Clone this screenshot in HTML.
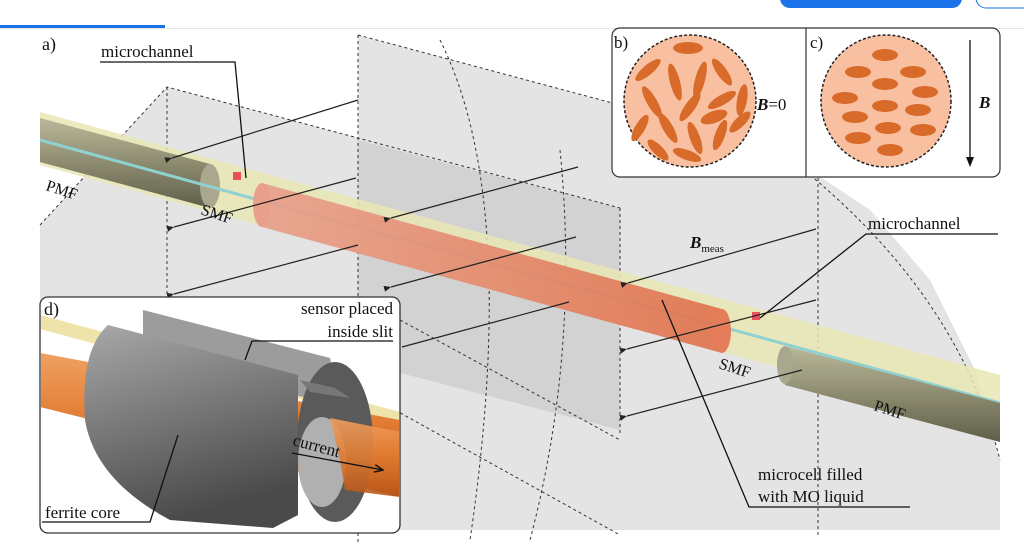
<!DOCTYPE html>
<html><head><meta charset="utf-8"><style>
html,body{margin:0;padding:0;background:#fff;width:1024px;height:550px;overflow:hidden}
svg{display:block}
text{font-family:"Liberation Serif",serif;fill:#111}
</style></head><body>
<svg width="1024" height="550" viewBox="0 0 1024 550" xmlns="http://www.w3.org/2000/svg">
<defs>
<marker id="ar" markerWidth="8" markerHeight="8" refX="1" refY="4" orient="auto" markerUnits="userSpaceOnUse">
<path d="M8,1 L1,4 L8,7 Z" fill="#222"/></marker>
<marker id="ae" markerWidth="10" markerHeight="8" refX="9" refY="4" orient="auto" markerUnits="userSpaceOnUse">
<path d="M0,0 L9,4 L0,8" fill="none" stroke="#111" stroke-width="1.5"/></marker>
<linearGradient id="pmf" x1="0" y1="0" x2="0" y2="1"><stop offset="0" stop-color="#b9b89a"/><stop offset="0.5" stop-color="#8d8c70"/><stop offset="1" stop-color="#5f5e4a"/></linearGradient>
<linearGradient id="org" x1="0" y1="0" x2="1" y2="0"><stop offset="0" stop-color="#e8a08c"/><stop offset="1" stop-color="#e0734f"/></linearGradient>
<linearGradient id="fer" x1="0" y1="0" x2="0.3" y2="1"><stop offset="0" stop-color="#a8a8a8"/><stop offset="1" stop-color="#4a4a4a"/></linearGradient>
<linearGradient id="rod" x1="0" y1="0" x2="0" y2="1"><stop offset="0" stop-color="#f0a060"/><stop offset="0.5" stop-color="#e07a30"/><stop offset="1" stop-color="#b85518"/></linearGradient>
</defs>

<rect x="0" y="25" width="165" height="3" fill="#1a73e8"/>
<rect x="0" y="28" width="1024" height="1" fill="#e6e6e6"/>
<rect x="780" y="-12" width="182" height="20" rx="10" fill="#1a73e8"/>
<rect x="976" y="-12" width="60" height="20" rx="10" fill="#fff" stroke="#1a73e8" stroke-width="1"/>

<polygon points="40,225 167,87 358,138 358,35 620,105 810,170 870,210 930,280 975,370 1000,460 1000,530 40,530" fill="#e4e4e4"/>
<polygon points="358,140 620,208 620,430 358,362" fill="#d2d2d2"/>
<g fill="none" stroke="#333" stroke-width="1" stroke-dasharray="3,3">
<path d="M40,225 L167,87 L620,208"/>
<path d="M358,35 L620,105"/>
<path d="M167,87 V300"/>
<path d="M358,35 V545"/>
<path d="M620,208 V435"/>
<path d="M818,178 V535"/>
<path d="M400,320 L620,440"/>
<path d="M395,410 L620,535"/>
<path d="M810,175 Q960,300 1000,460"/>
<path d="M440,40 Q520,200 470,540"/>
<path d="M560,150 Q580,350 530,540"/>
</g>

<polygon points="40,112 1000,375 1000,428 40,165" fill="#e9e7b5" opacity="0.85"/>
<polygon points="40,118 210,164 210,208 40,162" fill="url(#pmf)"/>
<ellipse cx="210" cy="186" rx="10" ry="22" fill="#a9a88e"/>
<line x1="40" y1="140" x2="1000" y2="403" stroke="#8fd0d0" stroke-width="3"/>
<polygon points="262,183 722,309 722,353 262,227" fill="url(#org)" opacity="0.92"/>
<ellipse cx="262" cy="205" rx="9" ry="22" fill="#e9a08a"/>
<ellipse cx="722" cy="331" rx="9" ry="22" fill="#e57c5a"/>
<rect x="233" y="172" width="8" height="8" fill="#e85060"/>
<rect x="752" y="312" width="8" height="8" fill="#e85060"/>
<polygon points="785,346 1000,403 1000,442 785,385" fill="url(#pmf)"/>
<ellipse cx="785" cy="365" rx="8" ry="19" fill="#a9a88e"/>

<g stroke="#222" stroke-width="1.2" fill="none" marker-end="url(#ar)">
<line x1="358" y1="100" x2="172" y2="158"/>
<line x1="356" y1="178" x2="174" y2="227"/>
<line x1="578" y1="167" x2="391" y2="218"/>
<line x1="358" y1="245" x2="174" y2="294"/>
<line x1="576" y1="237" x2="391" y2="287"/>
<line x1="816" y1="229" x2="628" y2="283"/>
<line x1="816" y1="300" x2="627" y2="349"/>
<line x1="802" y1="370" x2="627" y2="416"/>
</g>
<line x1="569" y1="302" x2="402" y2="347" stroke="#222" stroke-width="1.2"/>

<text x="42" y="50" font-size="18">a)</text>
<text x="101" y="57" font-size="17">microchannel</text>
<path d="M100,62 H235 L246,178" fill="none" stroke="#111" stroke-width="1.3"/>
<text x="45" y="190" font-size="16" transform="rotate(18 45 190)">PMF</text>
<text x="200" y="214" font-size="16" transform="rotate(18 200 214)">SMF</text>
<text x="690" y="248" font-size="17" font-weight="bold" font-style="italic">B<tspan font-size="11" font-weight="normal" font-style="normal" dy="4">meas</tspan></text>
<text x="868" y="229" font-size="17">microchannel</text>
<path d="M998,234 H866 L760,318" fill="none" stroke="#111" stroke-width="1.3"/>
<text x="718" y="368" font-size="16" transform="rotate(18 718 368)">SMF</text>
<text x="873" y="410" font-size="16" transform="rotate(18 873 410)">PMF</text>
<text x="758" y="480" font-size="17">microcell filled</text>
<text x="758" y="502" font-size="17">with MO liquid</text>
<path d="M910,507 H749 L662,300" fill="none" stroke="#111" stroke-width="1.3"/>

<rect x="612" y="28" width="388" height="149" rx="8" fill="#fff" stroke="#333" stroke-width="1.2"/>
<line x1="806" y1="28" x2="806" y2="177" stroke="#333" stroke-width="1.2"/>
<text x="614" y="48" font-size="17">b)</text>
<text x="810" y="48" font-size="17">c)</text>
<ellipse cx="690" cy="101" rx="66" ry="66" fill="#f8c0a0" stroke="#222" stroke-width="1.5" stroke-dasharray="3,2"/>
<ellipse cx="886" cy="101" rx="65" ry="66" fill="#f8c0a0" stroke="#222" stroke-width="1.5" stroke-dasharray="3,2"/>
<g fill="#d86a2a">
<ellipse cx="688" cy="48" rx="15" ry="6"/>
<ellipse cx="648" cy="70" rx="16" ry="5" transform="rotate(-40 648 70)"/>
<ellipse cx="675" cy="82" rx="19" ry="5" transform="rotate(75 675 82)"/>
<ellipse cx="700" cy="80" rx="19" ry="5" transform="rotate(105 700 80)"/>
<ellipse cx="722" cy="72" rx="16" ry="5" transform="rotate(55 722 72)"/>
<ellipse cx="652" cy="102" rx="18" ry="5" transform="rotate(60 652 102)"/>
<ellipse cx="722" cy="100" rx="16" ry="5" transform="rotate(-30 722 100)"/>
<ellipse cx="690" cy="107" rx="17" ry="5" transform="rotate(-55 690 107)"/>
<ellipse cx="742" cy="100" rx="16" ry="5" transform="rotate(100 742 100)"/>
<ellipse cx="714" cy="117" rx="14" ry="6" transform="rotate(-20 714 117)"/>
<ellipse cx="640" cy="128" rx="15" ry="5" transform="rotate(-60 640 128)"/>
<ellipse cx="668" cy="128" rx="17" ry="5" transform="rotate(60 668 128)"/>
<ellipse cx="695" cy="138" rx="17" ry="5" transform="rotate(70 695 138)"/>
<ellipse cx="720" cy="135" rx="16" ry="5" transform="rotate(-70 720 135)"/>
<ellipse cx="740" cy="122" rx="14" ry="5" transform="rotate(-45 740 122)"/>
<ellipse cx="658" cy="150" rx="14" ry="5" transform="rotate(45 658 150)"/>
<ellipse cx="687" cy="155" rx="15" ry="5" transform="rotate(20 687 155)"/>
</g>
<g fill="#d86a2a">
<ellipse cx="885" cy="55" rx="13" ry="6"/>
<ellipse cx="858" cy="72" rx="13" ry="6"/><ellipse cx="913" cy="72" rx="13" ry="6"/>
<ellipse cx="885" cy="84" rx="13" ry="6"/>
<ellipse cx="845" cy="98" rx="13" ry="6"/><ellipse cx="925" cy="92" rx="13" ry="6"/>
<ellipse cx="885" cy="106" rx="13" ry="6"/>
<ellipse cx="855" cy="117" rx="13" ry="6"/><ellipse cx="918" cy="110" rx="13" ry="6"/>
<ellipse cx="888" cy="128" rx="13" ry="6"/><ellipse cx="923" cy="130" rx="13" ry="6"/>
<ellipse cx="858" cy="138" rx="13" ry="6"/>
<ellipse cx="890" cy="150" rx="13" ry="6"/>
</g>
<text x="757" y="110" font-size="17"><tspan font-weight="bold" font-style="italic">B</tspan>=0</text>
<text x="979" y="108" font-size="17" font-weight="bold" font-style="italic">B</text>
<line x1="970" y1="40" x2="970" y2="162" stroke="#111" stroke-width="1.3"/>
<path d="M966,157 L970,167 L974,157 Z" fill="#111"/>

<rect x="40" y="297" width="360" height="236" rx="8" fill="#fff" stroke="#333" stroke-width="1.3"/>
<clipPath id="cd"><rect x="41" y="298" width="358" height="234" rx="7"/></clipPath>
<g clip-path="url(#cd)">
<polygon points="40,315 400,412 400,426 40,329" fill="#eee3a8"/>
<polygon points="40,353 400,420 400,497 40,407" fill="url(#rod)"/>
<polygon points="143,310 330,358 340,405 143,362" fill="#9c9c9c"/>
<ellipse cx="335" cy="442" rx="38" ry="80" fill="#5a5a5a"/>
<ellipse cx="322" cy="462" rx="24" ry="45" fill="#b0b0b0"/>
<path d="M330,418 L400,432 L400,497 L345,490 Q340,455 330,418 Z" fill="url(#rod)" opacity="0.9"/>
<path d="M108,325 L298,375 L298,515 L273,528 L170,520 Q95,480 85,420 Q80,350 108,325 Z" fill="url(#fer)"/>
<polygon points="300,380 335,388 350,398 310,392" fill="#777"/>
</g>
<text x="44" y="315" font-size="18">d)</text>
<text x="393" y="314" font-size="17" text-anchor="end">sensor placed</text>
<text x="393" y="337" font-size="17" text-anchor="end">inside slit</text>
<path d="M393,341 H252 L245,360" fill="none" stroke="#111" stroke-width="1.3"/>
<text x="45" y="518" font-size="17">ferrite core</text>
<path d="M42,522 H150 L178,435" fill="none" stroke="#111" stroke-width="1.3"/>
<text x="292" y="445" font-size="17" transform="rotate(15 292 445)">current</text>
<line x1="292" y1="453" x2="383" y2="470" stroke="#111" stroke-width="1.3" marker-end="url(#ae)"/>
</svg>
</body></html>
